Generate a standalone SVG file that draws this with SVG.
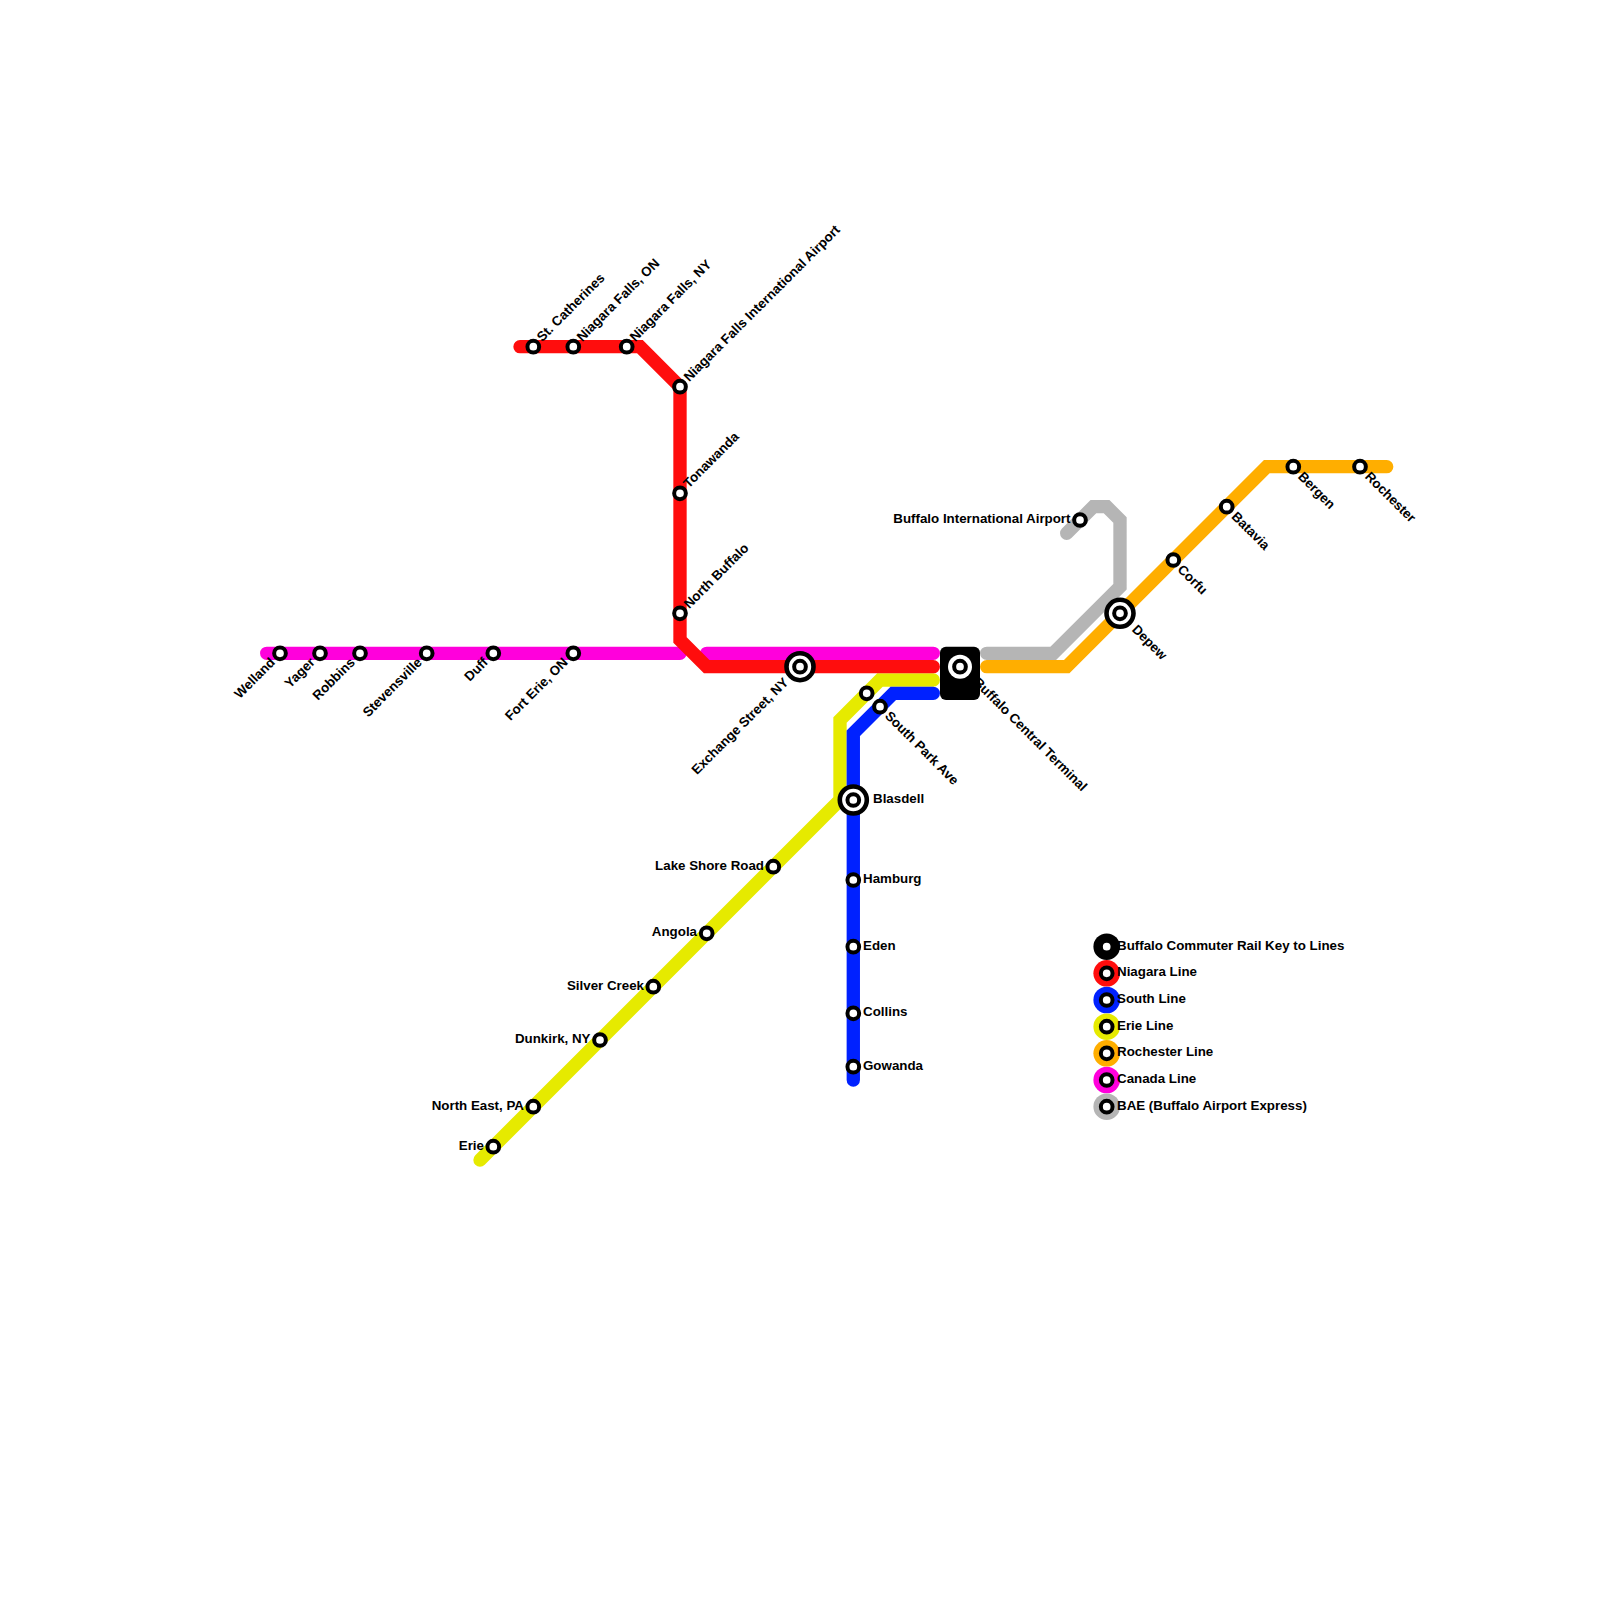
<svg xmlns="http://www.w3.org/2000/svg" width="1600" height="1600" viewBox="0 0 1600 1600">
<style>
.l{fill:none;stroke-width:13.33;stroke-linecap:round;stroke-linejoin:miter}
.s{fill:#fff;stroke:#000;stroke-width:4}
.o{fill:#fff;stroke:#000;stroke-width:4.6}
text{font-family:"Liberation Sans",Arial,sans-serif;font-size:13.33px;font-weight:bold;fill:#000;dominant-baseline:central}
.e{text-anchor:end}
</style>
<rect width="1600" height="1600" fill="#fff"/>
<g id="connectors">
<path class="l" stroke="#e6ea00" d="M933.3 680H880L840 720V800M840 800L480 1160"/>
<path class="l" stroke="#0021ff" d="M933.3 693.3H893.3L853.3 733.3V1080"/>
<path class="l" stroke="#ff00dc" d="M266.7 653.3H680M706.7 653.3H933.3"/>
<path class="l" stroke="#ff0d0d" d="M520 346.7H640L680 386.7V640L706.7 666.7H933.3"/>
<path class="l" stroke="#b5b5b5" d="M986.7 653.3H1053.3L1120 586.7V520L1106.7 506.7H1093.3L1066.7 533.3"/>
<path class="l" stroke="#ffae00" d="M986.7 666.7H1066.7L1266.7 466.7H1386.7"/>
</g>
<g id="buffalo-central"><rect x="940" y="646.7" width="40" height="53.3" rx="6" fill="#000"/><circle cx="960" cy="666.7" r="12" fill="#fff"/><circle class="s" cx="960" cy="666.7" r="5.85"/><text transform="translate(976,680) rotate(45)">Buffalo Central Terminal</text></g>
<g id="exchange"><circle class="o" cx="800" cy="666.7" r="13.5"/><circle class="s" cx="800" cy="666.7" r="5.85"/><text class="e" transform="translate(786,680) rotate(-45)">Exchange Street, NY</text></g>
<g id="blasdell"><circle class="o" cx="853.3" cy="800" r="13.5"/><circle class="s" cx="853.3" cy="800" r="5.85"/><text x="873" y="798.5">Blasdell</text></g>
<g id="depew"><circle class="o" cx="1120" cy="613.3" r="13.5"/><circle class="s" cx="1120" cy="613.3" r="5.85"/><text transform="translate(1134.5,627) rotate(45)">Depew</text></g>
<g id="st-catherines"><circle class="s" cx="533.3" cy="346.7" r="5.85"/><text transform="translate(539,339) rotate(-45)">St. Catherines</text></g>
<g id="niagara-on"><circle class="s" cx="573.3" cy="346.7" r="5.85"/><text transform="translate(579,339) rotate(-45)">Niagara Falls, ON</text></g>
<g id="niagara-ny"><circle class="s" cx="626.7" cy="346.7" r="5.85"/><text transform="translate(632,339) rotate(-45)">Niagara Falls, NY</text></g>
<g id="niagara-airport"><circle class="s" cx="680" cy="386.7" r="5.85"/><text transform="translate(686,379) rotate(-45)">Niagara Falls International Airport</text></g>
<g id="tonawanda"><circle class="s" cx="680" cy="493.3" r="5.85"/><text transform="translate(685.5,485.5) rotate(-45)">Tonawanda</text></g>
<g id="north-buffalo"><circle class="s" cx="680" cy="613.3" r="5.85"/><text transform="translate(686,606) rotate(-45)">North Buffalo</text></g>
<g id="welland"><circle class="s" cx="280" cy="653.3" r="5.85"/><text class="e" transform="translate(272.5,660) rotate(-45)">Welland</text></g>
<g id="yager"><circle class="s" cx="320" cy="653.3" r="5.85"/><text class="e" transform="translate(312.5,660) rotate(-45)">Yager</text></g>
<g id="robbins"><circle class="s" cx="360" cy="653.3" r="5.85"/><text class="e" transform="translate(352.5,660) rotate(-45)">Robbins</text></g>
<g id="stevensville"><circle class="s" cx="426.7" cy="653.3" r="5.85"/><text class="e" transform="translate(419.5,660) rotate(-45)">Stevensville</text></g>
<g id="duff"><circle class="s" cx="493.3" cy="653.3" r="5.85"/><text class="e" transform="translate(485.5,660) rotate(-45)">Duff</text></g>
<g id="fort-erie"><circle class="s" cx="573.3" cy="653.3" r="5.85"/><text class="e" transform="translate(565.5,660) rotate(-45)">Fort Erie, ON</text></g>
<g id="erie-unnamed"><circle class="s" cx="866.7" cy="693.3" r="5.85"/></g>
<g id="south-park"><circle class="s" cx="880" cy="706.7" r="5.85"/><text transform="translate(887.5,713.5) rotate(45)">South Park Ave</text></g>
<g id="hamburg"><circle class="s" cx="853.3" cy="880" r="5.85"/><text x="863" y="878.5">Hamburg</text></g>
<g id="eden"><circle class="s" cx="853.3" cy="946.7" r="5.85"/><text x="863" y="945.2">Eden</text></g>
<g id="collins"><circle class="s" cx="853.3" cy="1013.3" r="5.85"/><text x="863" y="1011.8">Collins</text></g>
<g id="gowanda"><circle class="s" cx="853.3" cy="1066.7" r="5.85"/><text x="863" y="1065.2">Gowanda</text></g>
<g id="lake-shore"><circle class="s" cx="773.3" cy="866.7" r="5.85"/><text class="e" x="764" y="865.2">Lake Shore Road</text></g>
<g id="angola"><circle class="s" cx="706.7" cy="933.3" r="5.85"/><text class="e" x="697" y="931.8">Angola</text></g>
<g id="silver-creek"><circle class="s" cx="653.3" cy="986.7" r="5.85"/><text class="e" x="644" y="985.2">Silver Creek</text></g>
<g id="dunkirk"><circle class="s" cx="600" cy="1040" r="5.85"/><text class="e" x="590.5" y="1038.5">Dunkirk, NY</text></g>
<g id="north-east"><circle class="s" cx="533.3" cy="1106.7" r="5.85"/><text class="e" x="524" y="1105.2">North East, PA</text></g>
<g id="erie"><circle class="s" cx="493.3" cy="1146.7" r="5.85"/><text class="e" x="484" y="1145.2">Erie</text></g>
<g id="airport"><circle class="s" cx="1080" cy="520" r="5.85"/><text class="e" x="1070.5" y="518.5">Buffalo International Airport</text></g>
<g id="corfu"><circle class="s" cx="1173.3" cy="560" r="5.85"/><text transform="translate(1180,567) rotate(45)">Corfu</text></g>
<g id="batavia"><circle class="s" cx="1226.7" cy="506.7" r="5.85"/><text transform="translate(1234,514) rotate(45)">Batavia</text></g>
<g id="bergen"><circle class="s" cx="1293.3" cy="466.7" r="5.85"/><text transform="translate(1300.5,474) rotate(45)">Bergen</text></g>
<g id="rochester"><circle class="s" cx="1360" cy="466.7" r="5.85"/><text transform="translate(1367.5,474) rotate(45)">Rochester</text></g>
<g id="legend">
<circle cx="1106.7" cy="946.7" r="13.3" fill="#000"/><circle class="s" cx="1106.7" cy="946.7" r="5.85"/><text x="1117" y="945.2">Buffalo Commuter Rail Key to Lines</text>
<circle cx="1106.7" cy="973.3" r="13.3" fill="#ff0d0d"/><circle class="s" cx="1106.7" cy="973.3" r="5.85"/><text x="1117" y="971.8">Niagara Line</text>
<circle cx="1106.7" cy="1000" r="13.3" fill="#0021ff"/><circle class="s" cx="1106.7" cy="1000" r="5.85"/><text x="1117" y="998.5">South Line</text>
<circle cx="1106.7" cy="1026.7" r="13.3" fill="#e6ea00"/><circle class="s" cx="1106.7" cy="1026.7" r="5.85"/><text x="1117" y="1025.2">Erie Line</text>
<circle cx="1106.7" cy="1053.3" r="13.3" fill="#ffae00"/><circle class="s" cx="1106.7" cy="1053.3" r="5.85"/><text x="1117" y="1051.8">Rochester Line</text>
<circle cx="1106.7" cy="1080" r="13.3" fill="#ff00dc"/><circle class="s" cx="1106.7" cy="1080" r="5.85"/><text x="1117" y="1078.5">Canada Line</text>
<circle cx="1106.7" cy="1106.7" r="13.3" fill="#b5b5b5"/><circle class="s" cx="1106.7" cy="1106.7" r="5.85"/><text x="1117" y="1105.2">BAE (Buffalo Airport Express)</text>
</g>
</svg>
